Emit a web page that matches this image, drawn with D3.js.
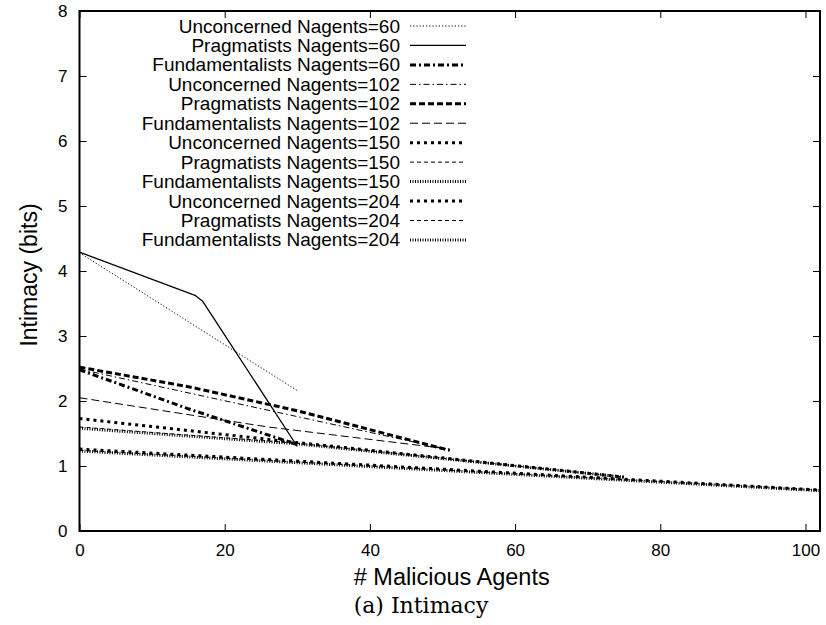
<!DOCTYPE html>
<html>
<head>
<meta charset="utf-8">
<script src="https://cdn.jsdelivr.net/npm/d3@7"></script>
<style>
  html, body { margin: 0; padding: 0; background: #fff; }
  svg { display: block; }
  text { font-family: "Liberation Sans", Arial, Helvetica, sans-serif; fill: #000; }
</style>
</head>
<body>
<svg id="chart" width="826" height="625"></svg>
<script>
// Series names, in legend order
const seriesNames = [
  "Unconcerned Nagents=60", "Pragmatists Nagents=60", "Fundamentalists Nagents=60",
  "Unconcerned Nagents=102", "Pragmatists Nagents=102", "Fundamentalists Nagents=102",
  "Unconcerned Nagents=150", "Pragmatists Nagents=150", "Fundamentalists Nagents=150",
  "Unconcerned Nagents=204", "Pragmatists Nagents=204", "Fundamentalists Nagents=204"
];

// Number of malicious agents (x) and intimacy in bits (y) for each series
const unconcerned60X = [0, 30];
const unconcerned60Y = [4.28, 2.16];
const pragmatists60X = [0, 16, 17, 30];
const pragmatists60Y = [4.29, 3.62, 3.53, 1.30];
const fundamentalists60X = [0, 15, 30];
const fundamentalists60Y = [2.48, 1.88, 1.33];

const unconcerned102X = [0, 30, 51];
const unconcerned102Y = [2.49, 1.76, 1.25];
const pragmatists102X = [0, 15, 30, 51];
const pragmatists102Y = [2.52, 2.22, 1.85, 1.24];
const fundamentalists102X = [0, 26, 51];
const fundamentalists102Y = [2.05, 1.60, 1.26];

const unconcerned150X = [0, 30, 75];
const unconcerned150Y = [1.73, 1.36, 0.83];
const pragmatists150X = [0, 30, 75];
const pragmatists150Y = [1.60, 1.35, 0.83];
const fundamentalists150X = [0, 30, 75];
const fundamentalists150Y = [1.58, 1.34, 0.83];

const unconcerned204X = [0, 102];
const unconcerned204Y = [1.26, 0.63];
const pragmatists204X = [0, 102];
const pragmatists204Y = [1.24, 0.63];
const fundamentalists204X = [0, 102];
const fundamentalists204Y = [1.23, 0.62];

// Axis ticks
const xTicks = [0, 20, 40, 60, 80, 100];
const yTicks = [0, 1, 2, 3, 4, 5, 6, 7, 8];

const seriesX = [unconcerned60X, pragmatists60X, fundamentalists60X,
                 unconcerned102X, pragmatists102X, fundamentalists102X,
                 unconcerned150X, pragmatists150X, fundamentalists150X,
                 unconcerned204X, pragmatists204X, fundamentalists204X];
const seriesY = [unconcerned60Y, pragmatists60Y, fundamentalists60Y,
                 unconcerned102Y, pragmatists102Y, fundamentalists102Y,
                 unconcerned150Y, pragmatists150Y, fundamentalists150Y,
                 unconcerned204Y, pragmatists204Y, fundamentalists204Y];

// Line styles per series (width, dash pattern)
const styles = [
  { w: 1.0, dash: "1.2,2" },
  { w: 1.3, dash: null },
  { w: 3.0, dash: "6,3,2,3" },
  { w: 1.0, dash: "6,3,1.5,3" },
  { w: 3.0, dash: "6,3" },
  { w: 1.0, dash: "8,4" },
  { w: 3.0, dash: "3,4" },
  { w: 1.0, dash: "4,3" },
  { w: 3.0, dash: "1,1.5" },
  { w: 3.0, dash: "3,4" },
  { w: 1.0, dash: "4,3" },
  { w: 3.0, dash: "1,1.5" }
];

const series = seriesNames.map((name, i) => ({
  name,
  style: styles[i],
  points: seriesX[i].map((x, j) => ({ x, y: seriesY[i][j] }))
}));

const svg = d3.select("#chart");
const plotLeft = 79.5, plotRight = 820, plotTop = 11, plotBottom = 531;

const x = d3.scaleLinear().domain([0, 102]).range([plotLeft, plotRight]);
const y = d3.scaleLinear().domain([0, 8]).range([plotBottom, plotTop]);

const plot = svg.append("g");

// Clip lines to the plot frame
svg.append("defs").append("clipPath").attr("id", "clip")
  .append("rect").attr("x", plotLeft).attr("y", plotTop)
  .attr("width", plotRight - plotLeft).attr("height", plotBottom - plotTop);

const line = d3.line().x(d => x(d.x)).y(d => y(d.y));

plot.append("g").attr("clip-path", "url(#clip)")
  .selectAll("path").data(series).join("path")
  .attr("d", d => line(d.points))
  .attr("fill", "none")
  .attr("stroke", "#000")
  .attr("stroke-width", d => d.style.w)
  .attr("stroke-dasharray", d => d.style.dash)
  .attr("stroke-linejoin", "round");

// Axes: ticks pointing inward, mirrored on top and right
const tickLen = 7;
const axisBottom = d3.axisBottom(x).tickValues(xTicks).tickSizeInner(-tickLen).tickSizeOuter(0).tickPadding(13);
const axisTop = d3.axisTop(x).tickValues(xTicks).tickSizeInner(-tickLen).tickSizeOuter(0).tickFormat("");
const axisLeft = d3.axisLeft(y).tickValues(yTicks).tickSizeInner(-tickLen).tickSizeOuter(0).tickPadding(12);
const axisRight = d3.axisRight(y).tickValues(yTicks).tickSizeInner(-tickLen).tickSizeOuter(0).tickFormat("");

function styleAxis(g) {
  g.select(".domain").remove();
  g.selectAll(".tick line").attr("stroke", "#000").attr("stroke-width", 1);
  g.selectAll(".tick text").attr("font-size", 17).attr("font-family", "Liberation Sans, Arial, sans-serif").attr("fill", "#000");
}

plot.append("g").attr("transform", `translate(0,${plotBottom})`).call(axisBottom).call(styleAxis);
plot.append("g").attr("transform", `translate(0,${plotTop})`).call(axisTop).call(styleAxis);
plot.append("g").attr("transform", `translate(${plotLeft},0)`).call(axisLeft).call(styleAxis);
plot.append("g").attr("transform", `translate(${plotRight},0)`).call(axisRight).call(styleAxis);

// Frame
plot.append("rect")
  .attr("x", plotLeft).attr("y", plotTop)
  .attr("width", plotRight - plotLeft).attr("height", plotBottom - plotTop)
  .attr("fill", "none").attr("stroke", "#000").attr("stroke-width", 2);

// Legend
const legend = plot.append("g");
const legTextRight = 400, legLineX0 = 410, legLineX1 = 466, legY0 = 26, legStep = 19.45;
series.forEach((s, i) => {
  const yy = legY0 + i * legStep;
  legend.append("text")
    .attr("x", legTextRight).attr("y", yy)
    .attr("text-anchor", "end").attr("dominant-baseline", "central")
    .attr("font-size", 19)
    .text(s.name);
  legend.append("line")
    .attr("x1", legLineX0).attr("x2", legLineX1)
    .attr("y1", yy).attr("y2", yy)
    .attr("stroke", "#000")
    .attr("stroke-width", s.style.w)
    .attr("stroke-dasharray", s.style.dash);
});

// Axis titles
svg.append("text")
  .attr("transform", `translate(29,${(plotTop + plotBottom) / 2 + 4}) rotate(-90)`)
  .attr("text-anchor", "middle").attr("dominant-baseline", "central")
  .attr("font-size", 23)
  .text("Intimacy (bits)");

svg.append("text")
  .attr("x", (plotLeft + plotRight) / 2 + 2).attr("y", 577)
  .attr("text-anchor", "middle").attr("dominant-baseline", "central")
  .attr("font-size", 23.5)
  .text("# Malicious Agents");

// Figure caption
svg.append("text")
  .attr("x", 421).attr("y", 605)
  .attr("text-anchor", "middle").attr("dominant-baseline", "central")
  .attr("font-size", 22)
  .style("font-family", "'DejaVu Serif', 'Liberation Serif', serif")
  .text("(a) Intimacy");
</script>
</body>
</html>
